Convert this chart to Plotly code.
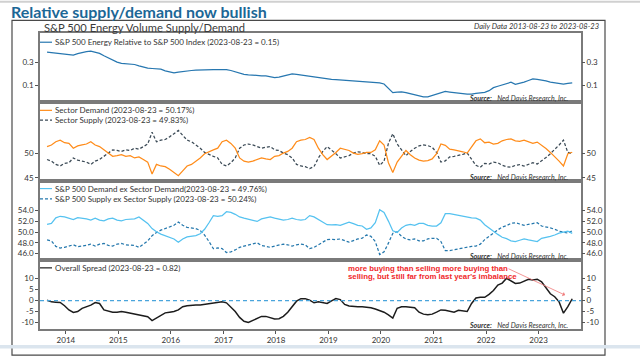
import plotly.graph_objects as go
import pandas as pd

dates = pd.date_range("2013-08-23", "2023-08-23", periods=121)

energy_rel = [0.481, 0.470, 0.461, 0.453, 0.441, 0.429, 0.419, 0.449, 0.474, 0.490,
              0.501, 0.474, 0.453, 0.404, 0.364, 0.324, 0.300, 0.284, 0.280, 0.276,
              0.268, 0.252, 0.236, 0.225, 0.222, 0.220, 0.215, 0.199, 0.186, 0.180,
              0.188, 0.194, 0.199, 0.202, 0.205, 0.208, 0.210, 0.210, 0.211, 0.211,
              0.211, 0.211, 0.202, 0.190, 0.175, 0.169, 0.165, 0.161, 0.159, 0.157,
              0.156, 0.148, 0.144, 0.148, 0.157, 0.166, 0.172, 0.169, 0.164, 0.158,
              0.152, 0.148, 0.144, 0.140, 0.136, 0.133, 0.132, 0.130, 0.129, 0.128,
              0.126, 0.124, 0.122, 0.120, 0.118, 0.116, 0.113, 0.107, 0.089, 0.071,
              0.073, 0.074, 0.071, 0.068, 0.065, 0.062, 0.058, 0.058, 0.062, 0.066,
              0.071, 0.075, 0.073, 0.072, 0.071, 0.068, 0.066, 0.066, 0.069, 0.071,
              0.072, 0.078, 0.090, 0.096, 0.103, 0.110, 0.116, 0.105, 0.110, 0.117,
              0.126, 0.136, 0.133, 0.129, 0.124, 0.117, 0.112, 0.108, 0.106, 0.110,
              0.113]

sector_demand = [51.30, 51.63, 52.28, 52.60, 52.08, 51.95, 50.98, 51.43, 51.63, 51.82,
                 52.28, 51.63, 51.30, 50.65, 49.87, 49.35, 49.48, 49.67, 49.35, 49.48,
                 49.02, 49.22, 48.70, 48.18, 45.80, 47.72, 47.40, 47.27, 46.74, 46.09,
                 45.44, 46.42, 47.40, 47.72, 48.37, 49.02, 49.87, 50.33, 50.65, 50.98,
                 52.28, 52.60, 51.95, 50.98, 49.02, 48.37, 48.18, 48.37, 48.70, 49.02,
                 48.83, 48.70, 49.35, 49.48, 50.00, 50.33, 50.98, 52.28, 52.60, 52.73,
                 53.13, 52.73, 50.98, 49.67, 48.70, 49.35, 50.13, 50.98, 50.78, 50.52,
                 50.00, 49.74, 49.87, 50.13, 50.13, 50.65, 52.47, 51.63, 48.05, 46.10,
                 48.18, 49.35, 50.52, 49.67, 49.02, 48.57, 48.37, 48.50, 48.83, 49.87,
                 51.82, 51.56, 50.78, 50.65, 50.52, 50.26, 50.00, 51.17, 52.47, 52.86,
                 52.08, 52.21, 51.82, 51.95, 52.47, 52.73, 52.86, 52.47, 52.34, 52.60,
                 52.21, 51.95, 52.21, 51.63, 50.91, 50.13, 49.35, 48.37, 47.40, 49.87,
                 50.17]

sector_supply = [48.70, 48.37, 47.72, 47.40, 47.92, 48.05, 49.02, 48.57, 48.37, 48.18,
                 47.72, 48.37, 48.70, 49.35, 50.13, 50.65, 50.52, 50.33, 50.65, 50.52,
                 50.98, 50.78, 51.30, 51.82, 54.20, 52.28, 52.60, 52.73, 53.26, 53.91,
                 54.56, 53.58, 52.60, 52.28, 51.63, 50.98, 50.13, 49.67, 49.35, 49.02,
                 47.72, 47.40, 48.05, 49.02, 50.98, 51.63, 51.82, 51.63, 51.30, 50.98,
                 51.17, 51.30, 50.65, 50.52, 50.00, 49.67, 49.02, 47.72, 47.40, 47.27,
                 46.87, 47.27, 49.02, 50.33, 51.30, 50.65, 49.87, 49.02, 49.22, 49.48,
                 50.00, 50.26, 50.13, 49.87, 49.87, 49.35, 47.53, 48.37, 51.95, 53.90,
                 51.82, 50.65, 49.48, 50.33, 50.98, 51.43, 51.63, 51.50, 51.17, 50.13,
                 48.18, 48.44, 49.22, 49.35, 49.48, 49.74, 50.00, 48.83, 47.53, 47.14,
                 47.92, 47.79, 48.18, 48.05, 47.53, 47.27, 47.14, 47.53, 47.66, 47.40,
                 47.79, 48.05, 47.79, 48.37, 49.09, 49.87, 50.65, 51.63, 52.60, 50.13,
                 49.83]

spx_demand_ex = [51.45, 51.63, 52.65, 52.95, 52.83, 52.65, 52.35, 52.71, 52.65, 52.47,
                 52.23, 52.59, 52.23, 52.11, 52.47, 52.59, 52.23, 52.11, 52.35, 52.47,
                 52.47, 52.83, 52.23, 51.63, 50.66, 50.06, 49.64, 49.34, 49.04, 48.73,
                 48.13, 48.73, 49.10, 49.22, 49.34, 49.70, 50.54, 51.75, 53.07, 52.95,
                 53.07, 53.80, 53.67, 53.31, 52.83, 52.59, 52.35, 52.11, 51.99, 52.47,
                 52.71, 52.83, 52.59, 52.35, 52.23, 52.35, 52.59, 52.35, 52.23, 52.35,
                 53.07, 52.83, 52.35, 51.87, 51.39, 51.33, 51.39, 51.27, 51.63, 51.87,
                 51.57, 51.27, 51.14, 50.54, 50.78, 51.75, 54.16, 53.67, 52.05, 50.24,
                 49.94, 50.78, 51.27, 51.45, 51.27, 51.63, 51.63, 51.27, 51.14, 51.14,
                 51.75, 53.43, 53.43, 53.25, 53.07, 52.95, 52.71, 52.65, 52.59, 52.23,
                 51.39, 50.78, 50.06, 49.58, 49.04, 48.80, 48.37, 48.25, 48.49, 48.73,
                 48.55, 48.37, 48.25, 48.86, 48.98, 49.22, 49.46, 49.82, 50.00, 50.18,
                 49.76]

spx_supply_ex = [48.55, 48.37, 47.35, 47.05, 47.17, 47.35, 47.65, 47.29, 47.35, 47.53,
                 47.77, 47.41, 47.77, 47.89, 47.53, 47.41, 47.77, 47.89, 47.65, 47.53,
                 47.53, 47.17, 47.77, 48.37, 49.34, 49.94, 50.36, 50.66, 50.96, 51.27,
                 51.87, 51.27, 50.90, 50.78, 50.66, 50.30, 49.46, 48.25, 46.93, 47.05,
                 46.93, 46.20, 46.33, 46.69, 47.17, 47.41, 47.65, 47.89, 48.01, 47.53,
                 47.29, 47.17, 47.41, 47.65, 47.77, 47.65, 47.41, 47.65, 47.77, 47.65,
                 46.93, 47.17, 47.65, 48.13, 48.61, 48.67, 48.61, 48.73, 48.37, 48.13,
                 48.43, 48.73, 48.86, 49.46, 49.22, 48.25, 45.84, 46.33, 47.95, 49.76,
                 50.06, 49.22, 48.73, 48.55, 48.73, 48.37, 48.37, 48.73, 48.86, 48.86,
                 48.25, 46.57, 46.57, 46.75, 46.93, 47.05, 47.29, 47.35, 47.41, 47.77,
                 48.61, 49.22, 49.94, 50.42, 50.96, 51.20, 51.63, 51.75, 51.51, 51.27,
                 51.45, 51.63, 51.75, 51.14, 51.02, 50.78, 50.54, 50.18, 50.00, 49.82,
                 50.24]

overall_spread = [0.15, -0.59, -0.74, -0.88, -2.35, -4.26, -5.44, -5.00, -3.53, -2.79,
                  -2.06, -0.88, -1.32, -4.26, -4.71, -5.29, -5.29, -5.00, -5.29, -5.74,
                  -6.18, -6.47, -6.76, -7.35, -9.12, -7.94, -6.47, -5.59, -5.29, -5.00,
                  -4.26, -2.79, -2.35, -2.06, -2.06, -2.06, -1.76, -1.76, -1.47, -1.03,
                  -0.59, -1.03, -2.79, -5.00, -7.65, -9.41, -10.00, -9.12, -8.24, -7.21,
                  -7.21, -7.65, -8.38, -8.24, -7.21, -5.29, -2.79, -0.29, 0.88, 0.88,
                  0.15, -1.03, -0.59, -0.88, -1.32, -0.15, 0.88, 0.44, -1.76, -2.50,
                  -2.79, -2.79, -2.79, -2.94, -3.24, -3.82, -4.56, -5.29, -6.47, -7.94,
                  -3.53, -2.79, -2.79, -2.94, -3.24, -5.29, -6.18, -6.47, -6.18, -5.29,
                  -4.26, -4.41, -5.00, -5.29, -4.41, -4.56, -5.00, -1.32, 1.18, 1.47,
                  1.47, 2.79, 4.56, 7.06, 7.94, 10.15, 8.97, 7.79, 7.94, 8.68,
                  9.71, 9.41, 9.71, 8.53, 6.03, 3.09, 1.76, -0.59, -5.74, -2.79,
                  0.82]

year_ticks = ["2014-01-01", "2015-01-01", "2016-01-01", "2017-01-01", "2018-01-01",
              "2019-01-01", "2020-01-01", "2021-01-01", "2022-01-01", "2023-01-01"]
year_labels = ["2014", "2015", "2016", "2017", "2018", "2019", "2020", "2021", "2022", "2023"]

p1_ticks = [0.1, 0.3]
p1_labels = ["0.1", "0.3"]
p2_ticks = [45, 50]
p2_labels = ["45", "50"]
p3_ticks = [46, 48, 50, 52, 54]
p3_labels = ["46.0", "48.0", "50.0", "52.0", "54.0"]
p4_ticks = [-10, -5, 0, 5, 10]
p4_labels = ["-10", "-5", "0", "5", "10"]

legend_p1 = "S&P 500 Energy Relative to S&P 500 Index (2023-08-23 = 0.15)"
legend_p2a = "Sector Demand (2023-08-23 = 50.17%)"
legend_p2b = "Sector Supply (2023-08-23 = 49.83%)"
legend_p3a = "S&P 500 Demand ex Sector Demand(2023-08-23 = 49.76%)"
legend_p3b = "S&P 500 Supply ex Sector Supply (2023-08-23 = 50.24%)"
legend_p4 = "Overall Spread (2023-08-23 = 0.82)"

C_ENERGY = "#2777b0"
C_DEMAND = "#ff8c1a"
C_SUPPLY = "#3b4a56"
C_DEMX = "#55c2f0"
C_SUPX = "#2578ad"
C_SPREAD = "#1c1c1c"
C_ZERO = "#4aa5dc"

FONT = "Lato"
TXT = "#333333"

# layout geometry (pixels -> paper)
L, R, T, B = 40, 59, 33, 19
W, H = 640, 357
PW, PH = W - L - R, H - T - B


def px(x):
    return (x - L) / PW


def py(y):
    return (H - B - y) / PH


d4 = [0, py(267)]
d3 = [py(267), py(186)]
d2 = [py(186), py(104.5)]
d1 = [py(104.5), 1]

xrange_ = ["2013-07-05", "2023-10-23"]

fig = go.Figure()
lw = 1.25
fig.add_trace(go.Scatter(x=dates, y=energy_rel, mode="lines", line=dict(color=C_ENERGY, width=lw),
                         xaxis="x", yaxis="y"))
fig.add_trace(go.Scatter(x=dates, y=sector_supply, mode="lines",
                         line=dict(color=C_SUPPLY, width=lw, dash="3px,2px"), xaxis="x2", yaxis="y2"))
fig.add_trace(go.Scatter(x=dates, y=sector_demand, mode="lines", line=dict(color=C_DEMAND, width=lw),
                         xaxis="x2", yaxis="y2"))
fig.add_trace(go.Scatter(x=dates, y=spx_supply_ex, mode="lines",
                         line=dict(color=C_SUPX, width=lw, dash="3px,2px"), xaxis="x3", yaxis="y3"))
fig.add_trace(go.Scatter(x=dates, y=spx_demand_ex, mode="lines", line=dict(color=C_DEMX, width=lw),
                         xaxis="x3", yaxis="y3"))
fig.add_trace(go.Scatter(x=dates, y=overall_spread, mode="lines", line=dict(color=C_SPREAD, width=1.5),
                         xaxis="x4", yaxis="y4"))

# invisible traces for right-hand axes
for ya, xa, v in [("y5", "x", 0.2), ("y6", "x2", 50), ("y7", "x3", 50), ("y8", "x4", 0)]:
    fig.add_trace(go.Scatter(x=[dates[0]], y=[v], mode="markers", marker=dict(opacity=0),
                             xaxis=xa, yaxis=ya, hoverinfo="skip"))

axis_line = dict(showline=True, linecolor="#7a7a7a", linewidth=1.5, mirror=True,
                 showgrid=False, zeroline=False)
tickfont = dict(family=FONT, size=8, color=TXT)


def xax(dom_anchor, labels):
    d = dict(axis_line, type="date", range=xrange_, domain=[0, 1], anchor=dom_anchor,
             tickvals=year_ticks, ticktext=year_labels, showticklabels=labels,
             ticks="outside" if labels else "", ticklen=3, tickcolor="#555",
             tickfont=tickfont)
    return d


def yax_left(dom, rng, tv, tt, anchor, log=False):
    d = dict(axis_line, domain=dom, range=rng, tickvals=tv, ticktext=tt, anchor=anchor,
             ticks="outside", ticklen=3, tickcolor="#555", tickfont=tickfont, side="left")
    if log:
        d["type"] = "log"
    return d


def yax_right(over, rng, tv, tt, anchor, log=False):
    d = dict(overlaying=over, side="right", range=rng, tickvals=tv, ticktext=tt, anchor=anchor,
             ticks="outside", ticklen=3, tickcolor="#555", tickfont=tickfont,
             showline=False, showgrid=False, zeroline=False)
    if log:
        d["type"] = "log"
    return d


r1 = [-1.348, 0.0735]
r2 = [44.28, 60.20]
r3 = [44.80, 59.42]
r4 = [-12.94, 18.41]

fig.update_layout(
    width=W, height=H,
    margin=dict(l=L, r=R, t=T, b=B),
    paper_bgcolor="white", plot_bgcolor="white",
    showlegend=False,
    xaxis=xax("y", False),
    xaxis2=xax("y2", False),
    xaxis3=xax("y3", False),
    xaxis4=xax("y4", True),
    yaxis=yax_left(d1, r1, p1_ticks, p1_labels, "x", log=True),
    yaxis2=yax_left(d2, r2, p2_ticks, p2_labels, "x2"),
    yaxis3=yax_left(d3, r3, p3_ticks, p3_labels, "x3"),
    yaxis4=yax_left(d4, r4, p4_ticks, p4_labels, "x4"),
    yaxis5=yax_right("y", r1, p1_ticks, p1_labels, "x", log=True),
    yaxis6=yax_right("y2", r2, p2_ticks, p2_labels, "x2"),
    yaxis7=yax_right("y3", r3, p3_ticks, p3_labels, "x3"),
    yaxis8=yax_right("y4", r4, p4_ticks, p4_labels, "x4"),
)

shapes = []
# top grey rule
shapes.append(dict(type="line", xref="paper", yref="paper", x0=px(0), x1=px(640), y0=py(0.8), y1=py(0.8),
                   line=dict(color="#d0d0d0", width=2)))
# outer frame
shapes.append(dict(type="rect", xref="paper", yref="paper", x0=px(12), x1=px(605), y0=py(365), y1=py(20),
                   line=dict(color="#4a4a4a", width=1.2)))
# bottom band
shapes.append(dict(type="rect", xref="paper", yref="paper", x0=px(0), x1=px(640), y0=py(358), y1=py(354.5),
                   fillcolor="#dbe5ee", line=dict(width=0)))
# zero line in spread panel
shapes.append(dict(type="line", xref="x4 domain", yref="y4", x0=0, x1=1, y0=0, y1=0,
                   line=dict(color=C_ZERO, width=1.2, dash="4px,3px")))
# legend samples
for ypos, col, dash in [(42.5, C_ENERGY, "solid"), (112.7, C_DEMAND, "solid"), (122.7, C_SUPPLY, "3px,2px"),
                        (193.3, C_DEMX, "solid"), (204, C_SUPX, "3px,2px"), (275, C_SPREAD, "solid")]:
    shapes.append(dict(type="line", xref="paper", yref="paper", x0=px(40), x1=px(52), y0=py(ypos), y1=py(ypos),
                       line=dict(color=col, width=1.2, dash=dash)))
fig.update_layout(shapes=shapes)

ann = []
ann.append(dict(text="Relative supply/demand now bullish", xref="paper", yref="paper", x=px(9), y=py(11),
                xanchor="left", yanchor="middle", showarrow=False,
                font=dict(family="Lato", size=16, weight="bold", color="#1c6796")))
ann.append(dict(text="S&P 500 Energy Volume Supply/Demand", xref="paper", yref="paper", x=px(42), y=py(27),
                xanchor="left", yanchor="middle", showarrow=False,
                font=dict(family=FONT, size=11.2, color="#3a3a3a")))
ann.append(dict(text="<i>Daily Data 2013-08-23 to 2023-08-23</i>", xref="paper", yref="paper", x=px(601),
                y=py(26.5), xanchor="right", yanchor="middle", showarrow=False,
                font=dict(family=FONT, size=7.5, color=TXT)))
for txt, ypos in [(legend_p1, 42.5), (legend_p2a, 112.7), (legend_p2b, 122.7),
                  (legend_p3a, 193.3), (legend_p3b, 204), (legend_p4, 275)]:
    ann.append(dict(text=txt, xref="paper", yref="paper", x=px(53), y=py(ypos), xanchor="left",
                    yanchor="middle", showarrow=False, font=dict(family=FONT, size=8, color=TXT)))
for ypos in [101, 182.3, 263.3, 334.3]:
    ann.append(dict(text="<b><i>Source:</i></b>   <i>Ned Davis Research, Inc.</i>", xref="paper", yref="paper",
                    x=px(571), y=py(ypos), xanchor="right", yanchor="middle", showarrow=False,
                    font=dict(family=FONT, size=7, color=TXT)))
# red annotation
for txt, ypos in [("more buying than selling more buying than", 275.5),
                  ("selling, but still far from last year's imbalance", 283.5)]:
    ann.append(dict(text="<b>" + txt + "</b>", xref="paper", yref="paper", x=px(346), y=py(ypos),
                    xanchor="left", yanchor="middle", showarrow=False,
                    font=dict(family="Arial", size=7.8, color="#f0282a")))
ann.append(dict(text="", x="2023-07-04", y=2.5, xref="x4", yref="y4", ax=-58, ay=-27, showarrow=True,
                arrowhead=1, arrowsize=1, arrowwidth=0.8, arrowcolor="#f07a7a"))
fig.update_layout(annotations=ann)

fig.write_html("out.html", config={"displayModeBar": False},
               post_script="document.body.style.margin='0';document.body.style.overflow='hidden';")
